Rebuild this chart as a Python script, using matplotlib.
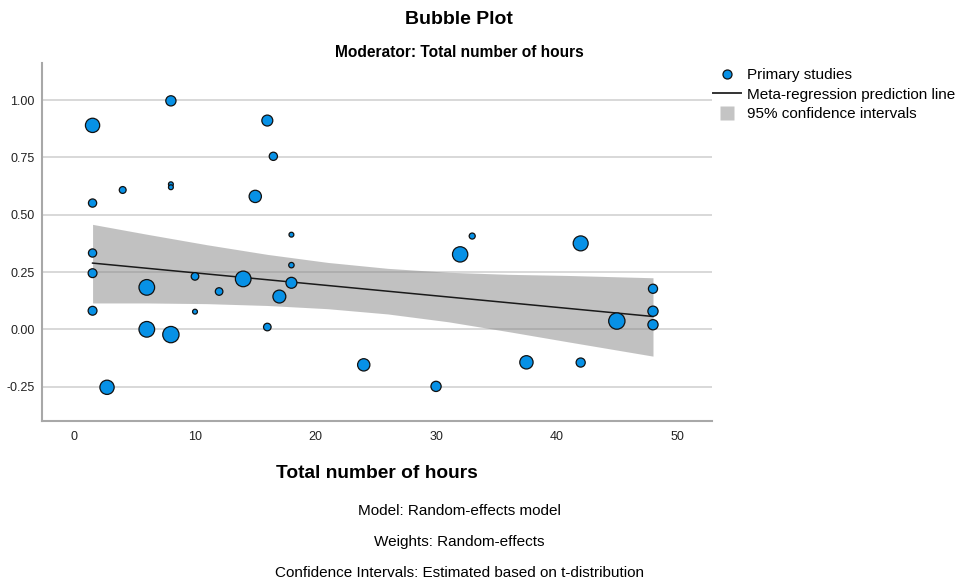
import matplotlib
matplotlib.use('Agg')
import matplotlib.pyplot as plt
from matplotlib.lines import Line2D

plt.rcParams['font.family'] = ['Liberation Sans', 'DejaVu Sans']

# Primary studies: moderator value, effect size, weight (%)
hours = [1.5, 8, 16, 16.5, 8, 8, 4, 1.5, 15, 18,
         1.5, 1.5, 1.5, 6, 6, 8, 2.7, 10, 10, 12,
         14, 18, 18, 17, 16, 24, 33, 32, 42, 48,
         48, 48, 45, 37.5, 42, 30]
effect = [0.89, 0.997, 0.911, 0.755, 0.633, 0.62, 0.608, 0.551, 0.58, 0.413,
          0.333, 0.245, 0.081, 0.183, 0.0, -0.023, -0.253, 0.231, 0.077, 0.165,
          0.22, 0.28, 0.203, 0.143, 0.01, -0.155, 0.407, 0.327, 0.375, 0.177,
          0.079, 0.02, 0.036, -0.144, -0.145, -0.249]
weights = [3.9, 2.0, 2.3, 1.3, 0.45, 0.45, 0.9, 1.3, 2.9, 0.45,
           1.3, 1.5, 1.5, 4.7, 4.7, 5.1, 3.9, 1.1, 0.45, 1.1,
           4.7, 0.56, 2.3, 3.2, 1.1, 2.9, 0.7, 4.5, 4.3, 1.6,
           2.0, 2.0, 5.1, 3.4, 1.6, 2.0]

# meta-regression prediction line and its 95% CI
line_x = [1.5, 48]
line_y = [0.289, 0.056]
ci_x = [1.5, 6, 11, 16, 21, 26, 31, 36, 41, 48]
ci_hi = [0.458, 0.415, 0.369, 0.327, 0.292, 0.266, 0.249, 0.240, 0.235, 0.225]
ci_lo = [0.115, 0.115, 0.112, 0.104, 0.090, 0.067, 0.033, -0.010, -0.055, -0.117]

yticks = [-0.25, 0.0, 0.25, 0.5, 0.75, 1.0]
xticks = [0, 10, 20, 30, 40, 50]

fig = plt.figure(figsize=(9.63, 5.83), dpi=100)
ax = fig.add_axes([0.0433, 0.2779, 0.6961, 0.6132])

ax.set_xlim(-2.72, 52.9)
ax.set_ylim(-0.40, 1.16)

for yv in yticks:
    ax.axhline(yv, color='#d2d2d2', lw=1.2, zorder=0)

ax.fill_between(ci_x, ci_lo, ci_hi, color='#858585', alpha=0.5, lw=0, zorder=1)
ax.plot(line_x, line_y, color='#1a1a1a', lw=1.1, zorder=3)
ax.scatter(hours, effect, s=[27 * w for w in weights], color='#0791e6',
           edgecolor='#111111', linewidth=0.9, zorder=4)

ax.set_yticks(yticks)
ax.set_yticklabels(['%.2f' % v for v in yticks])
ax.set_xticks(xticks)
ax.tick_params(length=0, labelsize=9, colors='#222222')
ax.tick_params(axis='y', pad=5)
ax.tick_params(axis='x', pad=7)

for side in ['top', 'right']:
    ax.spines[side].set_visible(False)
for side in ['left', 'bottom']:
    ax.spines[side].set_color('#a8a8a8')
    ax.spines[side].set_linewidth(1.5)

# titles and footnotes
fig.text(459 / 963, 1 - 24 / 583, 'Bubble Plot', ha='center', va='baseline',
         fontsize=14, fontweight='bold')
fig.text(459 / 963, 1 - 57 / 583, 'Moderator: Total number of hours', ha='center',
         va='baseline', fontsize=11.2, fontweight='bold')
fig.text(377 / 963, 1 - 478 / 583, 'Total number of hours', ha='center', va='baseline',
         fontsize=13.8, fontweight='bold')
fig.text(459 / 963, 1 - 515 / 583, 'Model: Random-effects model', ha='center',
         va='baseline', fontsize=11)
fig.text(459 / 963, 1 - 546 / 583, 'Weights: Random-effects', ha='center',
         va='baseline', fontsize=11)
fig.text(459 / 963, 1 - 577 / 583, 'Confidence Intervals: Estimated based on t-distribution',
         ha='center', va='baseline', fontsize=11)

handles = [
    Line2D([], [], ls='none', marker='o', markersize=6.5, markerfacecolor='#0791e6',
           markeredgecolor='#111111', markeredgewidth=0.9),
    Line2D([], [], color='#333333', lw=1.4),
    Line2D([], [], ls='none', marker='s', markersize=9.5, markerfacecolor='#c4c4c4',
           markeredgecolor='none'),
]
labels = ['Primary studies', 'Meta-regression prediction line', '95% confidence intervals']
fig.legend(handles, labels, loc='upper left', bbox_to_anchor=(713 / 963, 1 - 68 / 583),
           frameon=False, fontsize=11, handlelength=1.8, handletextpad=0.45,
           labelspacing=0.36, borderpad=0, borderaxespad=0)

fig.savefig('out.png', dpi=100)
